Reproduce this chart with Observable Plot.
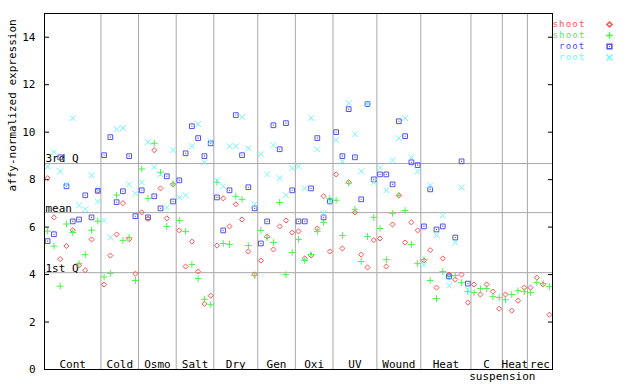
<!DOCTYPE html>
<html><head><meta charset="utf-8">
<script src="https://cdn.jsdelivr.net/npm/d3@7"></script>
<script src="https://cdn.jsdelivr.net/npm/@observablehq/plot@0.6"></script>
<style>body{margin:0;background:#fff} svg{display:block} .legend-text text{letter-spacing:1.2px}</style>
</head><body><div id="chart"></div>
<script>
const groupNames = ["Cont","Cold","Osmo","Salt","Dry","Gen","Oxi","UV","Wound","Heat","C","Heat","rec"];
const groupSizes = [9,6,6,6,7,6,6,7,7,8,5,4,4];
const subLabel = "suspension";
const subLabelGroup = 10;

const shootRed = [8.06,6.41,4.65,5.20,5.87,4.39,4.18,5.48,7.53,
  3.58,4.80,5.69,7.01,5.49,4.04,
  6.62,6.35,9.24,7.63,6.37,7.80,
  5.86,4.34,5.39,4.13,2.77,3.11,
  5.22,7.21,6.03,6.96,6.32,4.97,4.01,
  4.59,5.60,5.06,6.03,6.28,5.77,
  5.82,4.68,4.80,5.94,7.30,4.97,
  8.22,5.10,7.89,6.62,4.84,4.30,5.45,
  5.52,4.34,6.11,7.34,5.35,6.20,5.86,
  4.59,5.03,3.45,4.68,4.00,3.79,4.00,2.82,
  3.58,3.16,3.58,3.28,2.56,
  3.16,2.48,2.90,3.45,
  3.45,3.87,3.58,2.31];
const shootGreen = [5.83,5.20,3.51,6.13,5.77,4.46,4.84,5.87,6.25,
  3.90,4.05,7.35,5.44,5.56,3.75,
  8.45,7.21,9.53,8.31,6.03,7.82,
  6.28,5.82,4.42,3.83,2.96,2.73,
  7.89,5.31,5.27,7.30,7.17,5.22,3.96,
  5.86,5.56,5.35,7.04,4.00,4.93,
  5.48,4.59,4.84,5.82,6.20,7.21,
  7.13,5.65,7.85,6.75,4.55,5.60,6.41,
  5.94,4.63,6.58,7.34,6.70,5.27,4.46,
  4.63,3.75,2.99,4.13,3.92,3.96,3.66,3.28,
  3.24,3.41,3.41,3.07,3.03,
  2.94,3.16,3.32,3.28,
  3.24,3.66,3.62,3.49];
const rootBlue = [5.41,5.70,8.94,7.72,6.24,6.32,7.34,6.41,7.53,
  9.03,9.79,7.05,7.51,8.99,6.46,
  7.55,6.41,7.30,6.79,8.14,7.08,
  7.97,9.11,10.25,9.75,8.99,9.53,
  7.25,5.86,7.55,10.72,9.03,7.68,6.79,
  5.31,6.24,10.29,9.28,10.38,7.55,
  6.24,6.24,7.63,9.75,6.41,7.08,
  10.00,8.99,10.97,8.94,7.17,11.18,8.01,
  8.22,8.22,7.80,10.46,9.83,8.73,8.61,
  6.03,7.59,5.90,6.03,3.92,5.56,8.77,3.62];
const rootCyan = [8.55,9.15,8.35,7.80,10.59,6.91,6.75,8.18,7.08,
  6.28,5.56,10.12,10.17,7.80,7.42,
  7.89,9.58,8.53,8.22,6.83,9.24,
  7.25,7.34,9.41,10.34,8.73,9.60,
  7.97,7.72,9.41,9.41,10.63,9.32,6.96,
  9.07,8.22,9.45,8.06,7.34,8.48,
  8.56,7.63,10.59,9.28,6.58,7.08,
  9.66,8.77,11.22,9.91,8.35,11.18,7.89,
  8.51,7.55,8.82,9.75,10.59,8.94,8.35,
  4.41,7.76,5.65,6.49,3.54,5.35,7.67,3.37];

const quartileLabels = ["3rd Q","mean","1st Q"];
const quartileValues = [8.68, 6.61, 4.08];
const yTicks = [0,2,4,6,8,10,12,14];
const seriesNames = ["shoot","shoot","root","root"];
const seriesColors = ["#ff5050","#50f050","#5050f0","#70f8f8"];
const seriesSymbols = ["diamond2","plus","square2","times"];
const seriesR = [2.3, 2.3, 3.0, 2.8];
const seriesValues = [shootRed, shootGreen, rootBlue, rootCyan];

const nPos = d3.sum(groupSizes);
const starts = groupSizes.map((n, k) => d3.sum(groupSizes.slice(0, k)));
const boundaries = starts.slice(1).map(s => s - 0.5);
const groupLabels = groupNames.map((name, k) => ({name, c: starts[k] + (groupSizes[k] - 1) / 2}));
const subLabelX = starts[subLabelGroup] + groupSizes[subLabelGroup] - 0.5;

const font = "DejaVu Sans Mono";
const marks = [
  Plot.ruleX(boundaries, {stroke: "#a8a8a8", strokeWidth: 1}),
  Plot.ruleY(quartileValues, {stroke: "#a8a8a8", strokeWidth: 1}),
  Plot.text(quartileLabels, {y: (d, i) => quartileValues[i], text: d => d, frameAnchor: "left", textAnchor: "start", lineAnchor: "bottom", dx: 1, dy: -1, fill: "black"}),
  Plot.text(groupLabels, {x: "c", text: "name", frameAnchor: "bottom", lineAnchor: "bottom", dy: -2, fill: "black"}),
  Plot.text([subLabel], {x: subLabelX, text: d => d, frameAnchor: "bottom", lineAnchor: "bottom", dy: 10, fill: "black"}),
  Plot.axisY({ticks: yTicks, tickSize: 0, tickPadding: 9, label: null}),
  Plot.axisY({ticks: yTicks, tickSize: -5, text: null, label: null}),
  Plot.axisY({anchor: "right", ticks: yTicks, tickSize: -5, text: null, label: null}),
  Plot.text(["affy-normalized expression"], {frameAnchor: "left", rotate: -90, dx: -32, fill: "black"})
];
seriesValues.forEach((vals, s) => {
  const data = vals.map((v, i) => ({i, v}));
  marks.push(Plot.dot(data, {x: "i", y: "v", symbol: seriesSymbols[s], r: seriesR[s], stroke: seriesColors[s], strokeWidth: 1, fill: "none"}));
  if (s === 2) marks.push(Plot.dot(data, {x: "i", y: "v", symbol: "square", r: 0.6, fill: seriesColors[s], stroke: "none"}));
});
seriesNames.forEach((name, s) => {
  marks.push(Plot.text([name], {text: d => d, frameAnchor: "top-right", textAnchor: "end", lineAnchor: "middle", dx: 33, dy: 11 * (s + 1), fill: seriesColors[s], fontSize: 9, className: "legend-text"}));
  marks.push(Plot.dot([0], {frameAnchor: "top-right", dx: 57, dy: 11 * (s + 1), symbol: seriesSymbols[s], r: seriesR[s], stroke: seriesColors[s], fill: "none"}));
  if (s === 2) marks.push(Plot.dot([0], {frameAnchor: "top-right", dx: 57, dy: 11 * (s + 1), symbol: "square", r: 0.6, fill: seriesColors[s], stroke: "none"}));
});
marks.push(Plot.frame({stroke: "black", strokeWidth: 1}));

const chart = Plot.plot({
  width: 640, height: 384,
  marginLeft: 44, marginRight: 88, marginTop: 13, marginBottom: 15,
  style: {fontFamily: font, fontSize: "11px", color: "black", background: "white"},
  x: {domain: [-0.5, nPos - 0.5], axis: null},
  y: {domain: [0, 15]},
  marks
});
document.getElementById("chart").appendChild(chart);
</script>
</body></html>
